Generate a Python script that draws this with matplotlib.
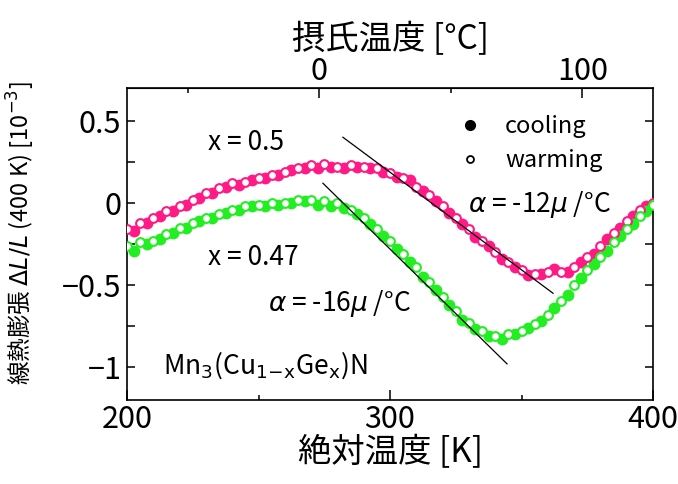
import matplotlib
matplotlib.use("Agg")
import matplotlib.pyplot as plt
from matplotlib.lines import Line2D
from matplotlib.ticker import FixedLocator

plt.rcParams['font.family'] = ['Noto Sans CJK JP', 'DejaVu Sans']
plt.rcParams['mathtext.fontset'] = 'dejavusans'
plt.rcParams['axes.unicode_minus'] = True

# x = 0.5 (pink), warming / cooling runs
t_warm_05 = [200, 205, 210, 215, 220, 225, 230, 235, 240, 245, 250, 255, 260, 265, 270, 275, 280,
             285, 290, 295, 300, 305, 310, 315, 320, 325, 330, 335, 340, 345, 350, 355, 360, 365,
             370, 375, 380, 385, 390, 395, 400]
v_warm_05 = [-0.16, -0.12, -0.09, -0.05, -0.02, 0.02, 0.06, 0.09, 0.12, 0.13, 0.15, 0.17, 0.19, 0.21,
             0.23, 0.24, 0.22, 0.23, 0.22, 0.21, 0.18, 0.15, 0.10, 0.05, -0.02, -0.09, -0.16, -0.23,
             -0.30, -0.36, -0.41, -0.43, -0.42, -0.42, -0.39, -0.33, -0.26, -0.18, -0.11, -0.04, 0.00]
t_cool_05 = [202.5, 207.5, 212.5, 217.5, 222.5, 227.5, 232.5, 237.5, 242.5, 247.5, 252.5, 257.5,
             262.5, 267.5, 272.5, 277.5, 282.5, 287.5, 292.5, 297.5, 302.5, 307.5, 312.5, 317.5,
             322.5, 327.5, 332.5, 337.5, 342.5, 347.5, 352.5, 357.5, 362.5, 367.5, 372.5, 377.5,
             382.5, 387.5, 392.5, 397.5]
v_cool_05 = [-0.17, -0.12, -0.08, -0.05, -0.01, 0.03, 0.06, 0.10, 0.11, 0.14, 0.15, 0.17, 0.20, 0.21,
             0.21, 0.22, 0.21, 0.22, 0.21, 0.19, 0.16, 0.14, 0.07, 0.01, -0.06, -0.13, -0.21, -0.26,
             -0.34, -0.39, -0.44, -0.43, -0.40, -0.42, -0.36, -0.31, -0.22, -0.15, -0.08, -0.02]

# x = 0.47 (green)
t_warm_047 = t_warm_05
v_warm_047 = [-0.26, -0.24, -0.23, -0.19, -0.15, -0.12, -0.09, -0.07, -0.04, -0.02, -0.01, 0.00,
              0.00, 0.02, 0.02, 0.01, 0.00, -0.04, -0.09, -0.16, -0.23, -0.31, -0.39, -0.48, -0.57,
              -0.66, -0.73, -0.78, -0.81, -0.80, -0.78, -0.74, -0.68, -0.60, -0.50, -0.41, -0.33,
              -0.24, -0.16, -0.08, -0.01]
t_cool_047 = t_cool_05
v_cool_047 = [-0.29, -0.25, -0.22, -0.18, -0.15, -0.11, -0.09, -0.06, -0.04, -0.02, -0.02, -0.01,
              0.00, 0.01, -0.01, -0.02, -0.03, -0.07, -0.13, -0.20, -0.28, -0.36, -0.45, -0.53,
              -0.62, -0.71, -0.77, -0.81, -0.83, -0.80, -0.76, -0.72, -0.64, -0.56, -0.46, -0.37,
              -0.29, -0.20, -0.13, -0.05]

# linear fits
fit_t_05 = [282.1, 362.0]
fit_v_05 = [0.40, -0.55]
fit_t_047 = [274.5, 344.5]
fit_v_047 = [0.12, -0.98]

pink = '#ff1a85'
green = '#22ee22'

fig = plt.figure(figsize=(6.78, 4.84), dpi=100)
ax = fig.add_axes([127 / 678, 84 / 484, 526 / 678, 312 / 484])

for tc, vc, tw, vw, col in [(t_cool_05, v_cool_05, t_warm_05, v_warm_05, pink),
                            (t_cool_047, v_cool_047, t_warm_047, v_warm_047, green)]:
    ax.plot(tc, vc, ls='none', marker='o', ms=7.5, mfc=col, mec=col, mew=1.0, zorder=2)
    ax.plot(tw, vw, ls='none', marker='o', ms=6.3, mfc='white', mec=col, mew=1.5, zorder=3)

ax.plot(fit_t_05, fit_v_05, color='black', lw=0.9, zorder=4)
ax.plot(fit_t_047, fit_v_047, color='black', lw=0.9, zorder=4)

ax.set_xlim(200, 400)
ax.set_ylim(-1.2, 0.7)
ax.xaxis.set_major_locator(FixedLocator([200, 300, 400]))
ax.xaxis.set_minor_locator(FixedLocator([250, 350]))
ax.yaxis.set_major_locator(FixedLocator([-1, -0.5, 0, 0.5]))
ax.yaxis.set_minor_locator(FixedLocator([-0.75, -0.25, 0.25]))
ax.set_yticklabels(['\u22121', '\u22120.5', '0', '0.5'])
ax.set_xticklabels(['200', '300', '400'])

ax.tick_params(axis='x', which='both', direction='in', top=False, labelsize=22, pad=3, width=1.1)
ax.tick_params(axis='x', which='major', length=7)
ax.tick_params(axis='x', which='minor', length=3.5)
ax.tick_params(axis='y', which='both', direction='in', right=True, labelsize=22, pad=4,
               length=6, width=1.1)
for sp in ax.spines.values():
    sp.set_linewidth(1.2)

top = ax.secondary_xaxis('top', functions=(lambda k: k - 273.15, lambda c: c + 273.15))
top.xaxis.set_major_locator(FixedLocator([0, 100]))
top.xaxis.set_minor_locator(FixedLocator([-50, 50]))
top.tick_params(which='both', direction='in', labelsize=22, pad=1, width=1.1)
top.tick_params(which='major', length=7)
top.tick_params(which='minor', length=3.5)
top.set_xlabel('摂氏温度 [°C]', fontsize=24, labelpad=5)

ax.set_xlabel('絶対温度 [K]', fontsize=24, labelpad=0)
ax.set_ylabel(r'線熱膨張 $\mathit{\Delta L/L}$ (400 K) [10$^{-3}$]', fontsize=17)
ax.yaxis.set_label_coords(-0.171, 0.535)

ax.text(230.8, 0.366, 'x = 0.5', fontsize=19, va='center', ha='left')
ax.text(230.8, -0.335, 'x = 0.47', fontsize=19, va='center', ha='left')
ax.text(253.6, -0.61, r'$\alpha$ = -16$\mu$ /°C', fontsize=19, va='center', ha='left')
ax.text(329.7, -0.01, r'$\alpha$ = -12$\mu$ /°C', fontsize=19, va='center', ha='left')
ax.text(213.7, -0.99, r'Mn$_3$(Cu$_{1\!-\!\mathrm{x}}$Ge$_\mathrm{x}$)N', fontsize=19,
        va='center', ha='left')

handles = [Line2D([], [], ls='none', marker='o', ms=7, color='black'),
           Line2D([], [], ls='none', marker='o', ms=5, mfc='white', mec='black', mew=1.3)]
ax.legend(handles, ['cooling', 'warming'], loc='upper left', bbox_to_anchor=(0.629, 0.913),
          frameon=False, fontsize=17, borderpad=0, borderaxespad=0, handlelength=1.0,
          handletextpad=1.0, labelspacing=0.45)

fig.savefig('out.png', dpi=100)
